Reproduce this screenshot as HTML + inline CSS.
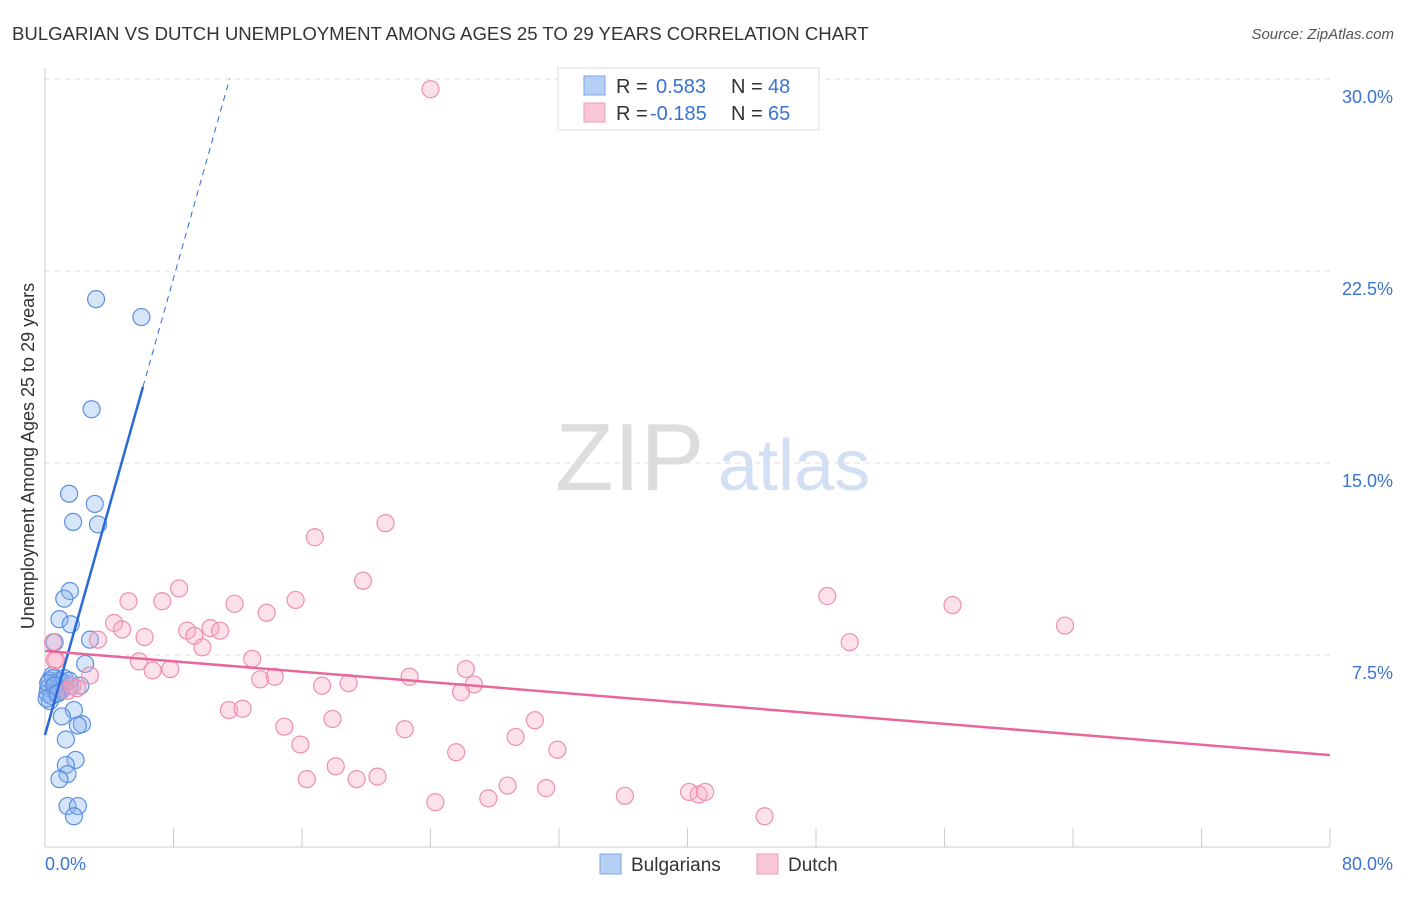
<!DOCTYPE html>
<html><head><meta charset="utf-8">
<style>
body{margin:0;background:#fff;font-family:"Liberation Sans",sans-serif;}
svg text{font-family:"Liberation Sans",sans-serif;}
</style></head>
<body>
<svg id="chart" width="1406" height="892" xmlns="http://www.w3.org/2000/svg">
<text x="12" y="40" font-size="18.6" fill="#333">BULGARIAN VS DUTCH UNEMPLOYMENT AMONG AGES 25 TO 29 YEARS CORRELATION CHART</text>
<text x="1394" y="39" font-size="15" fill="#555" text-anchor="end" font-style="italic">Source: ZipAtlas.com</text>
<g id="grid"></g>
<g id="axes"></g>
<text x="555" y="490" font-size="96" fill="#ddd" font-family="Liberation Serif">ZIP</text>
<text x="718" y="490" font-size="72" fill="#d3e0f4">atlas</text>
<g id="marks"></g>
<text transform="translate(34,456) rotate(-90)" font-size="18" fill="#333" text-anchor="middle">Unemployment Among Ages 25 to 29 years</text>
<g>
<rect x="558" y="68" width="261" height="62" fill="#fff" stroke="#ddd"/>
<rect x="584" y="76" width="21" height="19" fill="#b5cff5" stroke="#7aa6e6"/>
<rect x="584" y="103" width="21" height="19" fill="#f9c6d5" stroke="#ee9ab3"/>
<text x="616" y="93" font-size="20" fill="#333">R = </text><text x="656" y="93" font-size="20" fill="#3a73d0">0.583</text>
<text x="731" y="93" font-size="20" fill="#333">N = </text><text x="768" y="93" font-size="20" fill="#3a73d0">48</text>
<text x="616" y="120" font-size="20" fill="#333">R = </text><text x="650" y="120" font-size="20" fill="#3a73d0">-0.185</text>
<text x="731" y="120" font-size="20" fill="#333">N = </text><text x="768" y="120" font-size="20" fill="#3a73d0">65</text>
</g>
<g>
<rect x="600" y="854" width="21" height="20" fill="#b5cff5" stroke="#7aa6e6"/>
<text x="631" y="871" font-size="19" fill="#333">Bulgarians</text>
<rect x="757" y="854" width="21" height="20" fill="#f9c6d5" stroke="#ee9ab3"/>
<text x="788" y="871" font-size="19" fill="#333">Dutch</text>
</g>
</svg>
<script>
const yTicks=[7.5,15,22.5,30];
const yTickLabels=["7.5%","15.0%","22.5%","30.0%"];
const xLabels=["0.0%","80.0%"];
const bulX=[3.18,6.0,2.9,1.5,3.1,1.75,3.3,1.55,1.2,0.9,1.6,0.6,2.8,2.5,0.45,0.3,0.6,0.9,1.25,0.2,0.8,1.05,0.15,1.55,2.2,0.3,1.8,1.05,2.3,2.05,1.3,1.9,1.3,1.4,0.9,1.4,2.05,1.8,0.5,0.2,1.0,0.7,0.4,1.2,0.1,0.6,1.5,0.8];
const bulY=[21.4,20.7,17.1,13.8,13.4,12.7,12.6,10.0,9.7,8.9,8.7,8.0,8.1,7.15,6.7,6.5,6.4,6.5,6.4,6.2,6.2,6.35,6.0,6.3,6.3,5.7,5.35,5.1,4.8,4.75,4.2,3.4,3.2,2.85,2.65,1.6,1.6,1.2,6.6,6.4,6.1,6.0,5.9,6.6,5.8,6.3,6.5,6.0];
const dutX=[24.0,21.2,16.8,19.8,8.35,5.2,7.3,11.8,15.6,13.8,4.3,4.8,8.85,10.3,10.9,9.3,6.2,9.8,3.3,5.85,12.9,6.7,7.8,13.4,14.3,17.25,18.9,22.7,26.2,26.7,25.9,0.7,2.8,1.7,1.4,0.6,11.45,12.3,14.9,17.9,30.5,22.4,15.9,29.3,31.9,25.6,18.1,16.3,19.4,20.7,28.8,31.2,27.6,24.3,36.1,40.1,40.7,41.1,44.8,48.7,50.1,56.5,63.5,0.5,2.0];
const dutY=[29.6,12.65,12.1,10.4,10.1,9.6,9.6,9.5,9.65,9.15,8.75,8.5,8.45,8.55,8.45,8.25,8.2,7.8,8.1,7.25,7.35,6.9,6.95,6.55,6.65,6.3,6.4,6.65,6.95,6.35,6.05,7.3,6.7,6.3,6.1,7.3,5.35,5.4,4.7,5.0,4.95,4.6,4.0,4.3,3.8,3.7,3.15,2.65,2.65,2.75,2.4,2.3,1.9,1.75,2.0,2.15,2.05,2.15,1.2,9.8,8.0,9.45,8.65,8.0,6.2];
const bulLine=[4.375,2.23]; // intercept, slope
const dutLine=[7.66,-0.0509];
const X=v=>45+v/80*1285, Y=v=>847-v/30*768;
const NS="http://www.w3.org/2000/svg";
function mk(t,a,p){const e=document.createElementNS(NS,t);for(const k in a)e.setAttribute(k,a[k]);p.appendChild(e);return e;}
const grid=document.getElementById('grid'),axes=document.getElementById('axes'),marks=document.getElementById('marks');
yTicks.forEach((v,i)=>{
 const l=mk('line',{x1:45,x2:1330,y1:Y(v),y2:Y(v),stroke:'#ddd','stroke-dasharray':'5,5'},grid);
 
 
 const t=mk('text',{x:1393,y:Y(v)+24,'font-size':18,fill:'#3a73d0','text-anchor':'end'},axes);
 t.textContent=yTickLabels[i];
 
 
});
const ax=mk('line',{x1:45,x2:45,y1:68,y2:847,stroke:'#ccc'},axes);


const bx=mk('line',{x1:45,x2:1330,y1:847,y2:847,stroke:'#ccc'},axes);


for(let v=8;v<=80;v+=8){const t=mk('line',{x1:X(v),x2:X(v),y1:828,y2:847,stroke:'#ccc'},axes);
 
 }
[[0,45,'start'],[80,1393,'end']].forEach((d,i)=>{const t=mk('text',{x:d[1],y:870,'font-size':18,fill:'#3a73d0','text-anchor':d[2]},axes);t.textContent=xLabels[i];
 
 });
bulX.forEach((x,i)=>{const c=mk('circle',{cx:X(x),cy:Y(bulY[i]),r:8.5,fill:'rgba(140,180,240,0.35)',stroke:'#5b8fe0','stroke-width':1.2},marks);
 
 });
dutX.forEach((x,i)=>{const c=mk('circle',{cx:X(x),cy:Y(dutY[i]),r:8.5,fill:'rgba(248,170,195,0.35)',stroke:'#ee8fad','stroke-width':1.2},marks);
 
 });
const bEnd=6.1,bDash=(30-bulLine[0])/bulLine[1];
const b1=mk('line',{x1:X(0),y1:Y(bulLine[0]),x2:X(bEnd),y2:Y(bulLine[0]+bulLine[1]*bEnd),stroke:'#2a6ad8','stroke-width':2.5},marks);


const b2=mk('line',{x1:X(bEnd),y1:Y(bulLine[0]+bulLine[1]*bEnd),x2:X(bDash),y2:Y(30),stroke:'#2a6ad8','stroke-width':1,'stroke-dasharray':'6,5'},marks);


const d1=mk('line',{x1:X(0),y1:Y(dutLine[0]),x2:X(80),y2:Y(dutLine[0]+dutLine[1]*80),stroke:'#e8679a','stroke-width':2.5},marks);


</script>
</body></html>
